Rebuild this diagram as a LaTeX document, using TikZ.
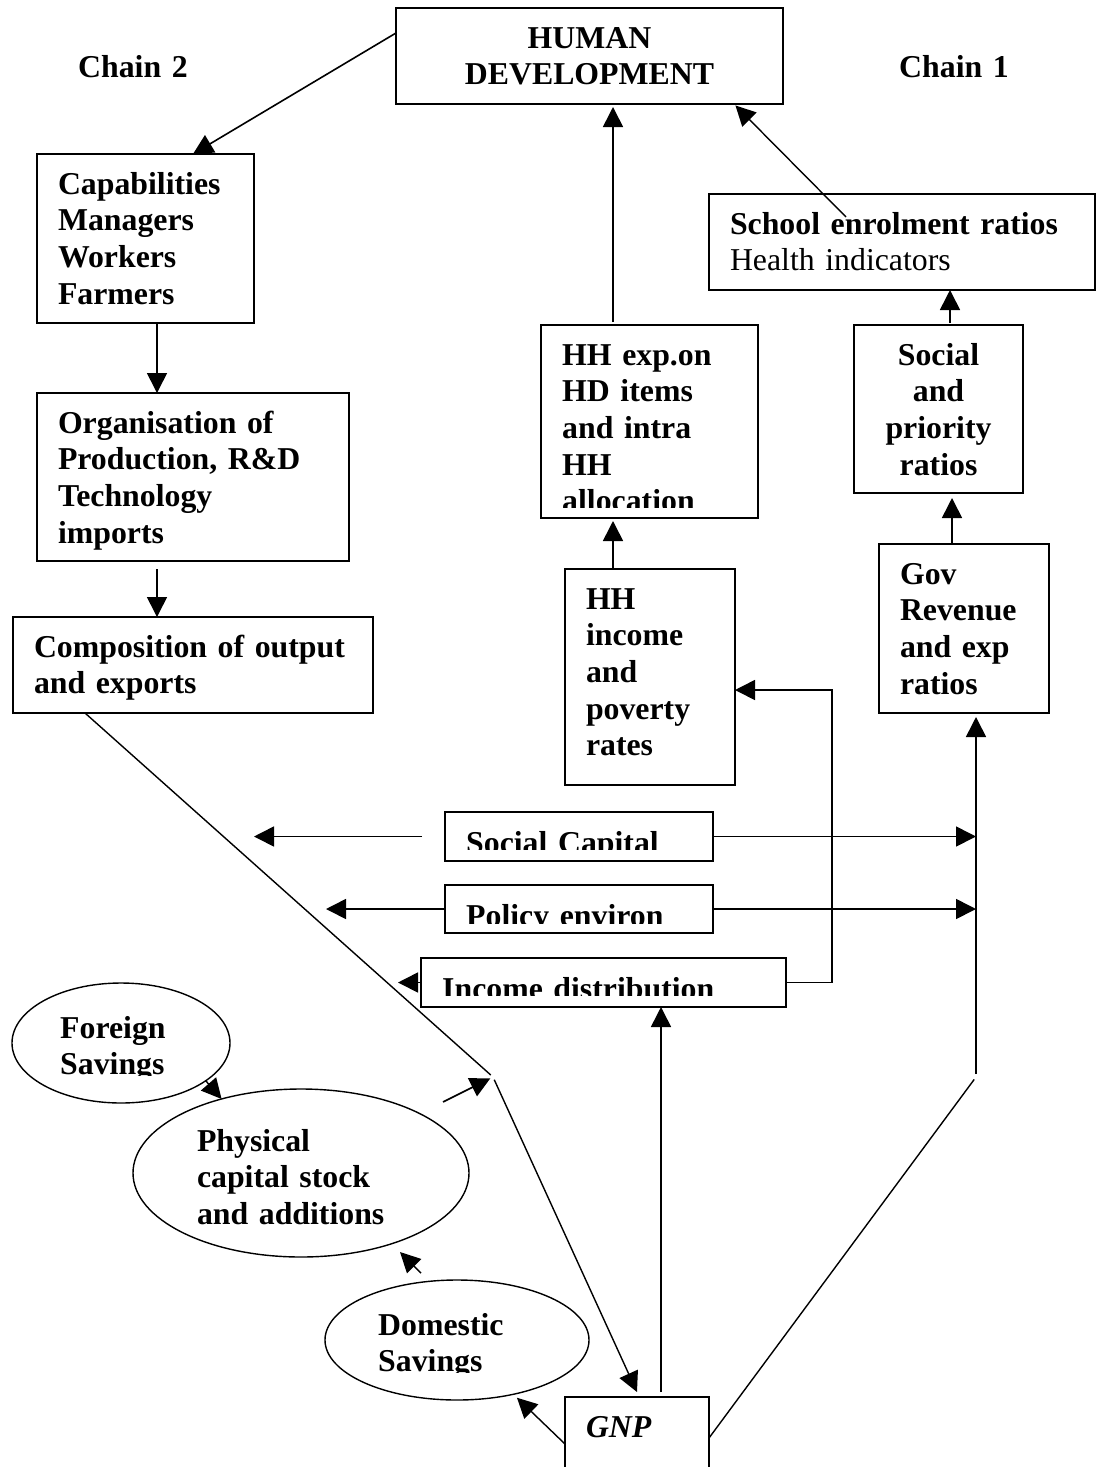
\documentclass[tikz,border=0pt]{standalone}
\usepackage{fontspec}
\setmainfont{Liberation Serif}
\usetikzlibrary{arrows.meta,shapes.geometric}
\newcommand{\bigtype}{\fontsize{31.8}{36.7}\selectfont}

\begin{document}
\begin{tikzpicture}[x=1pt,y=-1pt,
		box/.style n args={3}{draw, line width=1.8pt, outer sep=0pt, anchor=north west, inner xsep=21pt, inner ysep=0pt, text width=#1, text height=40pt, text depth=#2, align=#3, font=\bigtype\bfseries},
		cutbox/.style 2 args={draw, line width=1.8pt, outer sep=0pt, anchor=north west, inner sep=0pt, minimum width=#1, minimum height=#2},
		oval/.style 2 args={draw, ellipse, line width=1.4pt, outer sep=0pt, inner sep=0pt, minimum width=#1, minimum height=#2},
		txt/.style={inner sep=0pt, anchor=base west, text width=400pt, align=left, font=\bigtype\bfseries},
		arr/.style={line width=1.6pt, -{Triangle[length=20pt,width=20pt]}},
		link/.style={line width=1.4pt}]
		\useasboundingbox (0,0) rectangle (1096,1467);
		%Titles
		\node[txt] (chain2) at (78,77) {Chain 2};
		\node[txt] (chain1) at (899,77) {Chain 1};
		%Boxes
		\node[box={345pt}{56pt}{center}] (hd) at (396,8) {HUMAN\\DEVELOPMENT};
		\node[box={175pt}{129pt}{left}] (cap) at (37,154) {Capabilities\\Managers\\Workers\\Farmers};
		\node[box={270pt}{128pt}{left}] (org) at (37,393) {Organisation of\\Production, R\&D\\Technology\\imports};
		\node[box={318pt}{56pt}{left}] (comp) at (13,617) {Composition of output\\and exports};
		\node[box={344pt}{56pt}{left}] (sch) at (709,194) {School enrolment ratios\\\mdseries Health indicators};
		\node[box={127pt}{128pt}{center}] (soc) at (854,325) {Social\\and\\priority\\ratios};
		\node[box={128pt}{129pt}{left}] (gov) at (879,544) {Gov\\Revenue\\and exp\\ratios};
		\node[box={128pt}{176pt}{left}] (hhinc) at (565,569) {HH\\income\\and\\poverty\\rates};
		\node[box={102pt}{80pt}{left}, font=\bigtype\bfseries\itshape] (gnp) at (565,1397) {GNP};
		\node[cutbox={217pt}{193pt}] (hhexp) at (541,325) {};
		\node[cutbox={268pt}{49pt}] (socc) at (445,812) {};
		\node[cutbox={268pt}{48pt}] (pol) at (445,885) {};
		\node[cutbox={365pt}{49pt}] (incd) at (421,958) {};
		%Cut-off texts
		\begin{scope}
			\clip (hhexp.north west) rectangle ([yshift=11pt]hhexp.south east);
			\node[txt] (hhexp-t) at ([xshift=21pt,yshift=-40pt]hhexp.north west) {HH exp.on\\HD items\\and intra\\HH\\allocation};
		\end{scope}
		\begin{scope}
			\clip (socc.north west) rectangle ([yshift=12pt]socc.south east);
			\node[txt] (socc-t) at ([xshift=21pt,yshift=-41pt]socc.north west) {Social Capital};
		\end{scope}
		\begin{scope}
			\clip (pol.north west) rectangle ([yshift=10pt]pol.south east);
			\node[txt] (pol-t) at ([xshift=21pt,yshift=-41pt]pol.north west) {Policy environ};
		\end{scope}
		\begin{scope}
			\clip (incd.north west) rectangle ([yshift=12pt]incd.south east);
			\node[txt] (incd-t) at ([xshift=21pt,yshift=-41pt]incd.north west) {Income distribution};
		\end{scope}
		%Ellipses
		\node[oval={218pt}{120pt}] (for) at (121,1043) {};
		\node[oval={336pt}{168pt}, text width=208pt, align=left, text height=22pt, text depth=66pt, font=\bigtype\bfseries] (phys) at (301,1173) {Physical\\capital stock\\and additions};
		\node[oval={264pt}{120pt}] (dom) at (457,1340) {};
		\begin{scope}
			\clip ([xshift=-110pt,yshift=61pt]for.center) rectangle ([xshift=110pt,yshift=-32pt]for.center);
			\node[txt] (for-t) at ([xshift=-61pt,yshift=5pt]for.center) {Foreign\\Savings};
		\end{scope}
		\begin{scope}
			\clip ([xshift=-133pt,yshift=61pt]dom.center) rectangle ([xshift=133pt,yshift=-32pt]dom.center);
			\node[txt] (dom-t) at ([xshift=-79pt,yshift=5pt]dom.center) {Domestic\\Savings};
		\end{scope}
		%Junctions
		\coordinate (jl) at (493,1077);
		\coordinate (jr) at (976,1077);
		\coordinate (kink) at (832,690);
		\coordinate (sl) at (254,837);
		\coordinate (pl) at (326,909);
		\coordinate (il) at (398,983);
		%Chain 2
		\draw[arr] ([yshift=-25pt]hd.north west) -- ([xshift=156pt]cap.north west);
		\draw[arr] ([xshift=120pt]cap.south west) -- ([xshift=120pt]org.north west);
		\draw[arr] ([xshift=120pt,yshift=-8pt]org.south west) -- ([xshift=144pt]comp.north west);
		\draw[link, shorten >=3pt] ([xshift=72pt]comp.south west) -- (jl);
		\draw[arr, shorten <=26pt, shorten >=3pt] (phys) -- (jl);
		\draw[arr, line width=1.4pt, shorten <=3pt] (jl) -- ([xshift=72pt,yshift=5pt]gnp.north west);
		\draw[arr, line width=1.4pt] (for.-24) -- (phys.137);
		\draw[arr, line width=1.4pt, shorten >=5pt] ([yshift=-47pt]gnp.north west) -- (dom);
		\draw[arr, line width=1.4pt] ([xshift=-36pt,yshift=7pt]dom.north) -- ([xshift=99pt,yshift=5pt]phys.south);
		%Middle
		\draw[arr] ([xshift=96pt,yshift=5pt]gnp.north west) -- ([xshift=240pt]incd.south west);
		\draw[arr] (incd.east) -| (kink) -- ([yshift=-13pt]hhinc.east);
		\draw[arr, shorten >=3pt] ([xshift=48pt]hhinc.north west) -- ([xshift=72pt]hhexp.south west);
		\draw[arr, shorten >=3pt] ([xshift=72pt,yshift=3pt]hhexp.north west) -- ([xshift=217pt]hd.south west);
		\draw[arr, shorten <=23pt] (socc.west) -- (sl |- socc.west);
		\draw[arr] (pol.west) -- (pl |- pol.west);
		\draw[arr] (incd.west) -- (il |- incd.west);
		%Chain 1
		\draw[link, shorten >=3pt] ([yshift=-41pt]gnp.north east) -- (jr);
		\draw[arr, shorten <=3pt, shorten >=4pt] (jr) -- (jr |- gov.south);
		\draw[arr] (socc.east) -- (socc.east -| jr);
		\draw[arr] (pol.east) -- (pol.east -| jr);
		\draw[arr, shorten >=5pt] ([xshift=73pt]gov.north west) -- ([xshift=98pt]soc.south west);
		\draw[arr] ([xshift=96pt,yshift=2pt]soc.north west) -- ([xshift=241pt]sch.south west);
		\draw[arr, line width=1.4pt, shorten >=2pt] ([xshift=137pt,yshift=-23pt]sch.north west) -- ([xshift=338pt]hd.south west);
\end{tikzpicture}
\end{document}
